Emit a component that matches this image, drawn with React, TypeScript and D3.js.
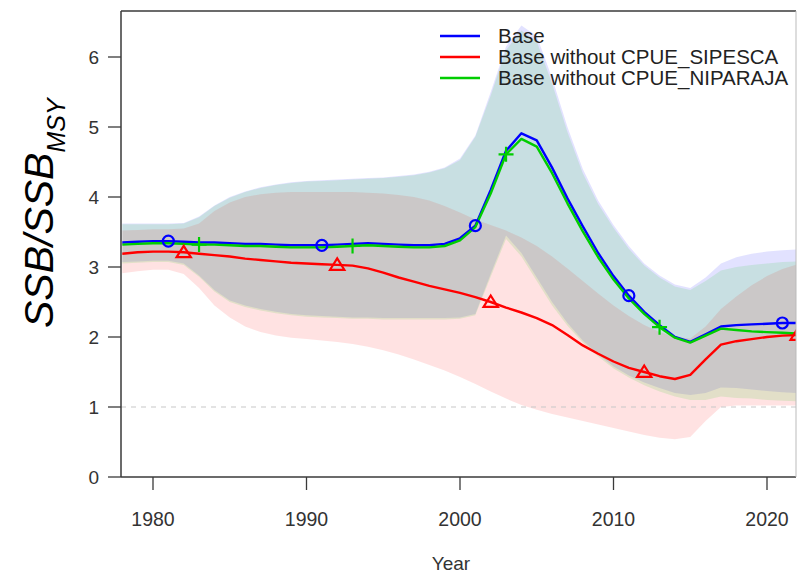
import React from "react";
import * as d3 from "d3";

const years = [1978,1979,1980,1981,1982,1983,1984,1985,1986,1987,1988,1989,1990,1991,1992,1993,1994,1995,1996,1997,1998,1999,2000,2001,2002,2003,2004,2005,2006,2007,2008,2009,2010,2011,2012,2013,2014,2015,2016,2017,2018,2019,2020,2021,2022];

const base = [3.35,3.36,3.37,3.37,3.36,3.35,3.35,3.34,3.33,3.33,3.32,3.31,3.31,3.31,3.32,3.33,3.34,3.33,3.32,3.31,3.31,3.33,3.41,3.59,4.10,4.66,4.91,4.81,4.42,3.98,3.58,3.20,2.87,2.59,2.36,2.17,2.00,1.93,2.04,2.15,2.17,2.18,2.19,2.20,2.20];
const baseUpper = [3.62,3.62,3.62,3.62,3.63,3.72,3.88,4.00,4.08,4.14,4.18,4.21,4.23,4.24,4.25,4.26,4.27,4.28,4.30,4.32,4.36,4.42,4.55,4.88,5.50,6.15,6.45,6.30,5.70,5.00,4.40,3.95,3.60,3.30,3.05,2.88,2.75,2.70,2.85,3.05,3.14,3.19,3.22,3.24,3.25];
const baseLower = [3.07,3.08,3.09,3.09,3.05,2.88,2.67,2.52,2.45,2.40,2.36,2.33,2.31,2.30,2.29,2.28,2.28,2.27,2.27,2.27,2.27,2.27,2.28,2.33,2.90,3.45,3.20,2.85,2.50,2.20,1.95,1.75,1.58,1.45,1.35,1.27,1.20,1.17,1.20,1.28,1.27,1.25,1.23,1.21,1.20];

const noSipesca = [3.19,3.21,3.22,3.22,3.21,3.19,3.17,3.15,3.12,3.10,3.08,3.06,3.05,3.04,3.03,3.02,2.98,2.92,2.85,2.79,2.73,2.68,2.63,2.57,2.50,2.42,2.35,2.27,2.17,2.03,1.88,1.76,1.65,1.56,1.50,1.44,1.40,1.46,1.68,1.89,1.94,1.97,2.00,2.02,2.03];
const noSipescaUpper = [3.52,3.53,3.54,3.54,3.55,3.62,3.80,3.92,4.00,4.04,4.06,4.07,4.07,4.07,4.07,4.07,4.06,4.05,4.03,4.00,3.95,3.87,3.78,3.68,3.60,3.52,3.42,3.30,3.15,2.98,2.80,2.62,2.45,2.30,2.17,2.07,2.00,1.98,2.15,2.40,2.58,2.74,2.87,2.97,3.04];
const noSipescaLower = [2.91,2.94,2.96,2.96,2.90,2.70,2.45,2.28,2.15,2.07,2.02,1.99,1.97,1.95,1.93,1.90,1.86,1.81,1.75,1.68,1.60,1.52,1.43,1.33,1.22,1.12,1.03,0.96,0.90,0.85,0.80,0.75,0.70,0.65,0.60,0.56,0.54,0.57,0.80,1.00,1.02,1.02,1.02,1.02,1.02];

const noNiparaja = [3.32,3.33,3.34,3.34,3.33,3.32,3.32,3.31,3.30,3.30,3.29,3.28,3.28,3.28,3.29,3.30,3.31,3.30,3.29,3.28,3.28,3.30,3.38,3.57,4.05,4.61,4.83,4.72,4.34,3.91,3.51,3.14,2.82,2.55,2.33,2.14,1.99,1.92,2.02,2.12,2.10,2.08,2.07,2.06,2.05];
const noNiparajaUpper = [3.61,3.61,3.61,3.61,3.62,3.71,3.87,3.99,4.07,4.13,4.17,4.20,4.22,4.23,4.24,4.25,4.26,4.27,4.29,4.31,4.35,4.41,4.53,4.86,5.45,6.10,6.38,6.22,5.62,4.93,4.34,3.90,3.56,3.26,3.02,2.85,2.72,2.67,2.80,2.95,3.00,3.03,3.05,3.07,3.08];
const noNiparajaLower = [3.05,3.06,3.07,3.07,3.03,2.86,2.65,2.50,2.43,2.38,2.34,2.31,2.29,2.28,2.27,2.26,2.26,2.25,2.25,2.25,2.25,2.25,2.26,2.31,2.86,3.40,3.15,2.80,2.45,2.16,1.92,1.72,1.55,1.42,1.31,1.22,1.15,1.10,1.10,1.15,1.13,1.12,1.10,1.09,1.08];

const xTicks = [1980, 1990, 2000, 2010, 2020];
const yTicks = [0, 1, 2, 3, 4, 5, 6];
const legendLabels = ["Base", "Base without CPUE_SIPESCA", "Base without CPUE_NIPARAJA"];
const markerYearsBase = [1981, 1991, 2001, 2011, 2021];
const markerYearsSipesca = [1982, 1992, 2002, 2012, 2022];
const markerYearsNiparaja = [1983, 1993, 2003, 2013];

const W = 797, H = 575;
const L = 121, R = 796, T = 11, B = 477;

export default function App() {
  const x = d3.scaleLinear().domain([1980, 2020]).range([153, 767]);
  const y = d3.scaleLinear().domain([0, 6]).range([477, 57]);

  const series = [
    { name: legendLabels[0], color: "#0000ff", band: "rgba(0,0,255,0.115)", v: base, up: baseUpper, lo: baseLower, mk: markerYearsBase, shape: "circle" },
    { name: legendLabels[1], color: "#ff0000", band: "rgba(255,0,0,0.115)", v: noSipesca, up: noSipescaUpper, lo: noSipescaLower, mk: markerYearsSipesca, shape: "triangle" },
    { name: legendLabels[2], color: "#00cd00", band: "rgba(0,205,0,0.115)", v: noNiparaja, up: noNiparajaUpper, lo: noNiparajaLower, mk: markerYearsNiparaja, shape: "plus" },
  ];

  const idx = years.map((_, i) => i);
  const area = (up: number[], lo: number[]) =>
    d3.area<number>().x((d) => x(years[d])).y0((d) => y(lo[d])).y1((d) => y(up[d]))(idx) || "";
  const line = (v: number[]) =>
    d3.line<number>().x((d) => x(years[d])).y((d) => y(v[d]))(idx) || "";

  const marker = (s: any, yr: number, key: string) => {
    const i = years.indexOf(yr);
    const cx = x(yr), cy = y(s.v[i]);
    if (s.shape === "circle") return <circle key={key} cx={cx} cy={cy} r={5.5} fill="none" stroke={s.color} strokeWidth={2.2} />;
    if (s.shape === "triangle") {
      const h = 6.5;
      return <path key={key} d={`M${cx},${cy - h}L${cx + h * 1.1},${cy + h * 0.75}L${cx - h * 1.1},${cy + h * 0.75}Z`} fill="none" stroke={s.color} strokeWidth={2.2} />;
    }
    const a = 7.5;
    return <path key={key} d={`M${cx - a},${cy}H${cx + a}M${cx},${cy - a}V${cy + a}`} fill="none" stroke={s.color} strokeWidth={2.2} />;
  };

  const axisColor = "#3a3a3a";
  const font = "'Liberation Sans', Arial, sans-serif";

  return (
    <svg width={W} height={H} style={{ position: "absolute", left: 0, top: 0, background: "#fff" }}>
      <defs>
        <clipPath id="plotclip"><rect x={L} y={T} width={R - L} height={B - T} /></clipPath>
      </defs>
      <rect x={0} y={0} width={W} height={H} fill="#fff" />
      <g clipPath="url(#plotclip)">
        {series.map((s) => <path key={"b" + s.name} d={area(s.up, s.lo)} fill={s.band} stroke="none" />)}
        <line x1={L} x2={R} y1={y(1)} y2={y(1)} stroke="#c8c8c8" strokeWidth={1.2} strokeDasharray="5,5" />
        {series.map((s) => <path key={"l" + s.name} d={line(s.v)} fill="none" stroke={s.color} strokeWidth={2.4} strokeLinejoin="round" />)}
        {series.map((s) => s.mk.map((yr: number) => marker(s, yr, s.name + yr)))}
      </g>
      <line x1={L} x2={R} y1={T} y2={T} stroke={axisColor} strokeWidth={1.5} />
      <line x1={L} x2={L} y1={T} y2={B} stroke={axisColor} strokeWidth={1.5} />
      <line x1={L} x2={R} y1={B} y2={B} stroke={axisColor} strokeWidth={1.5} />
      <line x1={R} x2={R} y1={T} y2={B} stroke="#bbb" strokeWidth={1} />
      {yTicks.map((t) => (
        <g key={"y" + t}>
          <line x1={108} x2={L} y1={y(t)} y2={y(t)} stroke={axisColor} strokeWidth={1.3} />
          <text x={99} y={y(t)} dy="0.36em" textAnchor="end" fontFamily={font} fontSize={19} fill="#333">{t}</text>
        </g>
      ))}
      {xTicks.map((t) => (
        <g key={"x" + t}>
          <line x1={x(t)} x2={x(t)} y1={B} y2={490} stroke={axisColor} strokeWidth={1.3} />
          <text x={x(t)} y={526} textAnchor="middle" fontFamily={font} fontSize={19.5} fill="#333">{t}</text>
        </g>
      ))}
      <text x={451} y={570} textAnchor="middle" fontFamily={font} fontSize={19} fill="#333">Year</text>
      <text transform="translate(53,328) rotate(-90)" fontFamily={font} fontStyle="italic" fontSize={41} fill="#000">
        SSB/SSB<tspan fontSize={25} dy={12}>MSY</tspan>
      </text>
      {series.map((s, i) => (
        <g key={"lg" + i}>
          <line x1={440} x2={480} y1={36 + i * 21} y2={36 + i * 21} stroke={s.color} strokeWidth={2.4} />
          <text x={498} y={36 + i * 21} dy="0.36em" fontFamily={font} fontSize={20.5} fill="#222">{s.name}</text>
        </g>
      ))}
    </svg>
  );
}
